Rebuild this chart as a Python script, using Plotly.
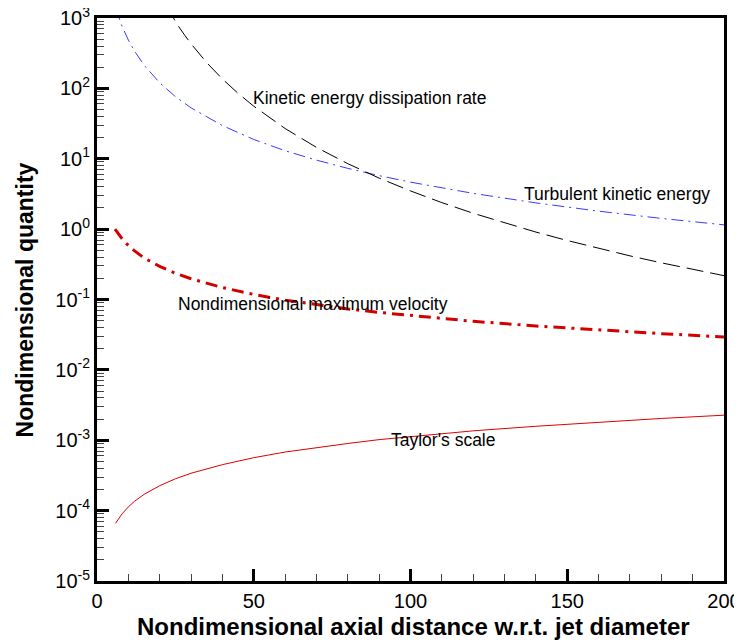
import plotly.graph_objects as go

# Turbulent kinetic energy
x_tke = [6, 7, 8, 10, 12, 15, 20, 25, 30, 40, 50, 60, 70, 80, 90, 100, 120, 140, 160, 180, 200]
y_tke = [1365, 1000, 764, 486, 337, 214, 120, 76.4, 52.9, 29.6, 18.8, 13.0, 9.55, 7.30, 5.75, 4.65,
         3.22, 2.36, 1.80, 1.42, 1.15]

# Kinetic energy dissipation rate
x_eps = [22, 24, 26, 28, 30, 35, 40, 45, 50, 60, 70, 80, 90, 100, 110, 120, 130, 140, 150, 160,
         170, 180, 190, 200]
y_eps = [1488, 1051, 763, 567, 430, 232, 136, 85.0, 55.8, 26.9, 14.5, 8.51, 5.31, 3.49, 2.38, 1.68,
         1.22, 0.908, 0.689, 0.532, 0.417, 0.332, 0.268, 0.218]

# Nondimensional maximum velocity
x_vel = [5.74, 7, 8, 10, 12, 15, 20, 25, 30, 40, 50, 60, 70, 80, 90, 100, 120, 140, 160, 180, 200]
y_vel = [1.0, 0.83, 0.73, 0.585, 0.49, 0.39, 0.295, 0.236, 0.197, 0.148, 0.118, 0.098, 0.084,
         0.0735, 0.0655, 0.059, 0.049, 0.042, 0.0368, 0.0327, 0.0294]

# Taylor's scale
x_tay = [5.9, 7, 8, 10, 12, 15, 20, 25, 30, 40, 50, 60, 70, 80, 90, 100, 120, 140, 160, 180, 200]
y_tay = [6.6e-5, 7.9e-5, 9.0e-5, 1.13e-4, 1.36e-4, 1.7e-4, 2.26e-4, 2.83e-4, 3.4e-4, 4.5e-4,
         5.65e-4, 6.8e-4, 7.9e-4, 9.0e-4, 1.02e-3, 1.13e-3, 1.36e-3, 1.58e-3, 1.81e-3, 2.04e-3,
         2.27e-3]

x_ticks = [0, 50, 100, 150, 200]
y_tickvals = [1e-5, 1e-4, 1e-3, 1e-2, 1e-1, 1, 10, 100, 1000]
y_ticktext = ["10<sup>-5</sup>", "10<sup>-4</sup>", "10<sup>-3</sup>", "10<sup>-2</sup>",
              "10<sup>-1</sup>", "10<sup>0</sup>", "10<sup>1</sup>", "10<sup>2</sup>",
              "10<sup>3</sup>"]

labels = [
    ("Kinetic energy dissipation rate", 49.1, 1.86),
    ("Turbulent kinetic energy", 135.6, 0.50),
    ("Nondimensional maximum velocity", 25.2, -1.06),
    ("Taylor's scale", 93.1, -3.0),
]

FONT = "Liberation Sans, Arial"

fig = go.Figure()
fig.add_trace(go.Scatter(x=x_tke, y=y_tke, mode="lines",
                         line=dict(color="#3a3aff", width=1, dash="12px,5px,2px,5px")))
fig.add_trace(go.Scatter(x=x_eps, y=y_eps, mode="lines",
                         line=dict(color="black", width=1, dash="17px,7px")))
fig.add_trace(go.Scatter(x=x_vel, y=y_vel, mode="lines",
                         line=dict(color="#d40000", width=3, dash="12px,6px,3px,6px")))
fig.add_trace(go.Scatter(x=x_tay, y=y_tay, mode="lines",
                         line=dict(color="#e00000", width=1)))

for txt, xv, yv in labels:
    fig.add_annotation(x=xv, y=yv, text=txt, showarrow=False, xanchor="left", yanchor="middle",
                       font=dict(family=FONT, size=17.5, color="black"))

fig.add_annotation(xref="paper", yref="paper", x=0.505, y=-0.08,
                   text="<b>Nondimensional axial distance w.r.t. jet diameter</b>",
                   showarrow=False, xanchor="center", yanchor="middle",
                   font=dict(family=FONT, size=24, color="black"))
fig.add_annotation(xref="paper", yref="paper", x=-0.115, y=0.5,
                   text="<b>Nondimensional quantity</b>", textangle=-90,
                   showarrow=False, xanchor="center", yanchor="middle",
                   font=dict(family=FONT, size=23, color="black"))

# The page body has an 8px margin, so the figure is sized/offset to compensate.
fig.update_layout(
    width=734, height=636,
    margin=dict(l=89, r=18, t=10, b=63),
    paper_bgcolor="white", plot_bgcolor="white",
    showlegend=False,
    font=dict(family=FONT, color="black"),
)
fig.update_xaxes(
    range=[0, 200], tickvals=x_ticks, automargin=False, ticklabeloverflow="allow",
    ticks="inside", ticklen=12, tickwidth=3, tickcolor="black",
    minor=dict(ticks="inside", ticklen=7, tickwidth=1, tickcolor="#444", dtick=10),
    showline=True, linewidth=3, linecolor="black", mirror=True,
    showgrid=False, zeroline=False,
    tickfont=dict(size=20),
)
fig.update_yaxes(
    type="log", range=[-5, 3], tickvals=y_tickvals, ticktext=y_ticktext, automargin=False,
    ticklabeloverflow="allow",
    ticks="inside", ticklen=12, tickwidth=3, tickcolor="black",
    minor=dict(ticks="inside", ticklen=7, tickwidth=1, tickcolor="#444", dtick="D1"),
    showline=True, linewidth=3, linecolor="black", mirror=True,
    showgrid=False, zeroline=False,
    tickfont=dict(size=20),
)

fig.write_html("out.html")
